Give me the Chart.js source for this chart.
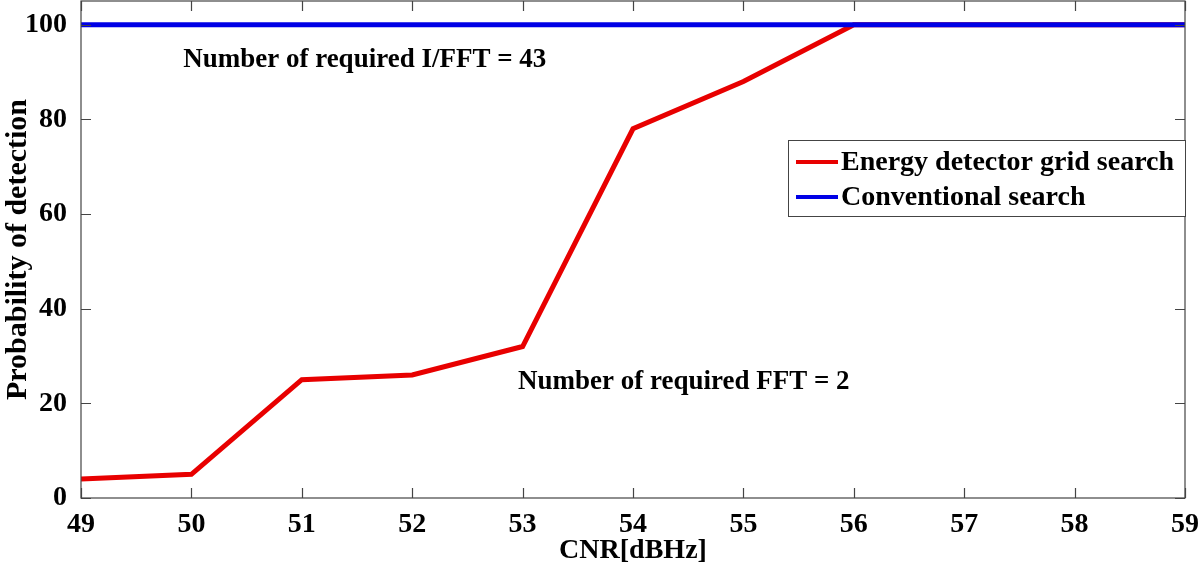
<!DOCTYPE html>
<html>
<head>
<meta charset="utf-8">
<script src="https://cdn.jsdelivr.net/npm/chart.js@4.4.1/dist/chart.umd.min.js"></script>
<style>
  html, body { margin: 0; padding: 0; background: #fff; }
  #wrap { width: 1200px; height: 563px; }
</style>
</head>
<body>
<div id="wrap"><canvas id="pdChart" width="1200" height="563"></canvas></div>
<script>
// CNR values (dBHz)
var cnr = [49, 50, 51, 52, 53, 54, 55, 56, 57, 58, 59];
// probability of detection (%)
var energyGrid = [4, 5, 25, 26, 32, 78, 88, 100, 100, 100, 100];
var conventional = [100, 100, 100, 100, 100, 100, 100, 100, 100, 100, 100];
var yTicks = [0, 20, 40, 60, 80, 100];
var xTicks = [49, 50, 51, 52, 53, 54, 55, 56, 57, 58, 59];
// text notes: [x, y, text]
var notes = [
  [51.57, 92.6, 'Number of required I/FFT = 43'],
  [54.46, 24.5, 'Number of required FFT = 2']
];

var serif = '"Liberation Serif", "Times New Roman", serif';

function toXY(xs, ys) {
  return xs.map(function (x, i) { return { x: x, y: ys[i] }; });
}

// frame, inward ticks, notes and legend box
var framePlugin = {
  id: 'frame',
  afterDraw: function (chart) {
    var ctx = chart.ctx;
    var a = chart.chartArea;
    var xs = chart.scales.x, ys = chart.scales.y;
    ctx.save();
    ctx.strokeStyle = '#444';
    ctx.lineWidth = 1.2;
    ctx.strokeRect(a.left, a.top, a.right - a.left, a.bottom - a.top);
    var tl = 10;
    ctx.beginPath();
    xTicks.forEach(function (v) {
      var px = Math.round(xs.getPixelForValue(v)) + 0.5;
      ctx.moveTo(px, a.bottom); ctx.lineTo(px, a.bottom - tl);
      ctx.moveTo(px, a.top); ctx.lineTo(px, a.top + tl);
    });
    yTicks.forEach(function (v) {
      var py = Math.round(ys.getPixelForValue(v)) + 0.5;
      ctx.moveTo(a.left, py); ctx.lineTo(a.left + tl, py);
      ctx.moveTo(a.right, py); ctx.lineTo(a.right - tl, py);
    });
    ctx.stroke();

    // notes
    ctx.fillStyle = '#000';
    ctx.font = 'bold 27px ' + serif;
    ctx.textAlign = 'center';
    ctx.textBaseline = 'middle';
    notes.forEach(function (n) {
      ctx.fillText(n[2], xs.getPixelForValue(n[0]), ys.getPixelForValue(n[1]));
    });

    // legend box
    var lx = 788, ly = 140, lw = a.right - 788, lh = 76;
    ctx.fillStyle = '#fff';
    ctx.fillRect(lx, ly, lw, lh);
    ctx.strokeStyle = '#444';
    ctx.lineWidth = 1;
    ctx.strokeRect(lx + 0.5, ly + 0.5, lw, lh);
    ctx.textAlign = 'left';
    ctx.font = 'bold 28px ' + serif;
    chart.data.datasets.forEach(function (ds, i) {
      var cy = ly + 22 + i * 35;
      ctx.strokeStyle = ds.borderColor;
      ctx.lineWidth = 4;
      ctx.beginPath();
      ctx.moveTo(lx + 8, cy); ctx.lineTo(lx + 50, cy);
      ctx.stroke();
      ctx.fillStyle = '#000';
      ctx.fillText(ds.label, lx + 53, cy + 1);
    });
    ctx.restore();
  }
};

new Chart(document.getElementById('pdChart'), {
  type: 'line',
  data: {
    datasets: [{
      label: 'Energy detector grid search',
      data: toXY(cnr, energyGrid),
      borderColor: 'rgb(232,0,0)',
      borderWidth: 5,
      pointRadius: 0,
      tension: 0,
      order: 1
    }, {
      label: 'Conventional search',
      data: toXY(cnr, conventional),
      borderColor: 'rgb(0,0,230)',
      borderWidth: 5,
      pointRadius: 0,
      tension: 0,
      order: 0
    }]
  },
  options: {
    responsive: false,
    animation: false,
    layout: { padding: { top: 1, right: 15, left: 0, bottom: 0 } },
    plugins: { legend: { display: false }, tooltip: { enabled: false } },
    scales: {
      x: {
        type: 'linear', min: 49, max: 59,
        afterBuildTicks: function (s) { s.ticks = xTicks.map(function (v) { return { value: v }; }); },
        afterFit: function (s) { s.height = 65; s.paddingLeft = 0; s.paddingRight = 0; },
        grid: { display: false },
        border: { display: false },
        ticks: { color: '#000', padding: 2, maxRotation: 0, font: { family: serif, size: 28, weight: 'bold' } },
        title: { display: true, text: 'CNR[dBHz]', color: '#000', padding: { top: 0, bottom: -5 }, font: { family: serif, size: 28, weight: 'bold' } }
      },
      y: {
        min: 0, max: 105,
        afterBuildTicks: function (s) { s.ticks = yTicks.map(function (v) { return { value: v }; }); },
        afterFit: function (s) { s.width = 81; s.paddingTop = 0; s.paddingBottom = 0; },
        grid: { display: false },
        border: { display: false },
        ticks: { color: '#000', padding: 6, font: { family: serif, size: 28, weight: 'bold' } },
        title: { display: true, text: 'Probability of detection', color: '#000', padding: 0, font: { family: serif, size: 30, weight: 'bold' } }
      }
    }
  },
  plugins: [framePlugin]
});
</script>
</body>
</html>
